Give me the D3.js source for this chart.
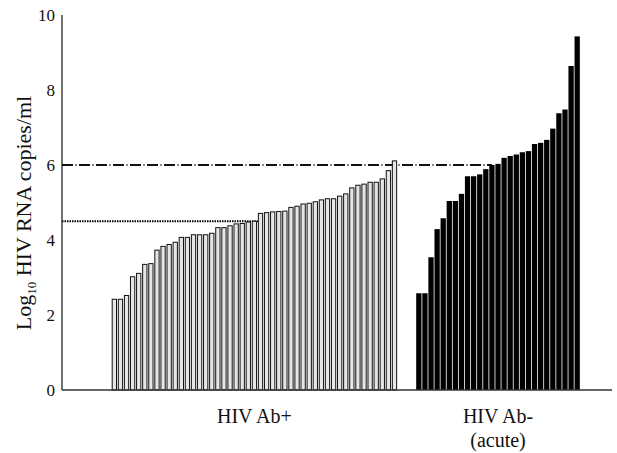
<!DOCTYPE html>
<html>
<head>
<meta charset="utf-8">
<script src="https://cdn.jsdelivr.net/npm/d3@7"></script>
<style>
  body { margin: 0; background: #fff; }
  svg text { font-family: "Liberation Serif", "Times New Roman", serif; fill: #111; }
</style>
</head>
<body>
<svg id="chart" width="617" height="453"></svg>
<script>
// --- data (log10 HIV RNA copies/ml, sorted) ---
const abPosValues = [2.42, 2.42, 2.52, 3.02, 3.11, 3.35, 3.37, 3.73, 3.83, 3.88, 3.94, 4.07, 4.07,
  4.14, 4.14, 4.14, 4.18, 4.33, 4.33, 4.38, 4.43, 4.44, 4.48, 4.50, 4.71, 4.73, 4.75, 4.76, 4.77,
  4.87, 4.90, 4.96, 4.98, 5.02, 5.07, 5.10, 5.10, 5.17, 5.23, 5.39, 5.46, 5.49, 5.54, 5.54, 5.63,
  5.85, 6.11];
const abNegValues = [2.58, 2.58, 3.54, 4.29, 4.58, 5.04, 5.04, 5.23, 5.70, 5.70, 5.75, 5.89, 6.00,
  6.03, 6.19, 6.24, 6.28, 6.34, 6.37, 6.56, 6.59, 6.67, 6.97, 7.38, 7.48, 8.64, 9.43];
const yTicks = [0, 2, 4, 6, 8, 10];
const groupLabels = [["HIV Ab+"], ["HIV Ab-", "(acute)"]];
const dashLevel = 6;
const dotLevel = 4.5;
const gapSlots = 3;

// slot keys: white bars, empty gap, black bars
const posKeys = abPosValues.map((v, i) => "p" + i);
const gapKeys = d3.range(gapSlots).map(i => "g" + i);
const negKeys = abNegValues.map((v, i) => "n" + i);
const allKeys = posKeys.concat(gapKeys, negKeys);

const svg = d3.select("#chart");
const axisX = 62, plotTop = 15, plotBottom = 390;

const y = d3.scaleLinear().domain([0, 10]).range([plotBottom, plotTop]);
const x = d3.scaleBand().domain(allKeys)
  .range([111.3, 111.3 + allKeys.length * 6.09])
  .paddingInner(0.13).paddingOuter(0.065);

// reference lines (under the bars)
svg.append("line")
  .attr("x1", axisX).attr("x2", x(negKeys[12]) + x.bandwidth() / 2)
  .attr("y1", y(dashLevel)).attr("y2", y(dashLevel))
  .attr("stroke", "#111").attr("stroke-width", 1.8)
  .attr("stroke-dasharray", "11,2.5,1,2.5");
svg.append("line")
  .attr("x1", axisX).attr("x2", x(posKeys[24]))
  .attr("y1", y(dotLevel)).attr("y2", y(dotLevel))
  .attr("stroke", "#000").attr("stroke-width", 2.2)
  .attr("stroke-dasharray", "1.5,1");

// bars
svg.append("g").selectAll("rect")
  .data(abPosValues)
  .join("rect")
  .attr("x", (d, i) => x(posKeys[i]) + 0.5)
  .attr("y", d => y(d))
  .attr("width", x.bandwidth() - 1)
  .attr("height", d => plotBottom - y(d))
  .attr("fill", "#e6e6e6")
  .attr("stroke", "#111")
  .attr("stroke-width", 1);

svg.append("g").selectAll("rect")
  .data(abNegValues)
  .join("rect")
  .attr("x", (d, i) => x(negKeys[i]))
  .attr("y", d => y(d))
  .attr("width", x.bandwidth())
  .attr("height", d => plotBottom - y(d))
  .attr("fill", "#000");

// axes
svg.append("line")
  .attr("x1", axisX).attr("x2", axisX).attr("y1", plotTop).attr("y2", plotBottom)
  .attr("stroke", "#111").attr("stroke-width", 1.2);
svg.append("line")
  .attr("x1", axisX).attr("x2", 612).attr("y1", plotBottom).attr("y2", plotBottom)
  .attr("stroke", "#333").attr("stroke-width", 1.5);

svg.append("g").selectAll("text")
  .data(yTicks)
  .join("text")
  .attr("x", axisX - 7)
  .attr("y", d => y(d))
  .attr("dy", "0.35em")
  .attr("text-anchor", "end")
  .style("font-size", "17px")
  .text(d => d);

// y title
const title = svg.append("text")
  .attr("transform", `translate(31,${213}) rotate(-90)`)
  .attr("text-anchor", "middle")
  .style("font-size", "22px");
title.append("tspan").text("Log");
title.append("tspan").attr("dy", 5).style("font-size", "13px").text("10");
title.append("tspan").attr("dy", -5).text(" HIV RNA copies/ml");

// group labels
const groupCenters = [
  (x(posKeys[0]) + x(posKeys[posKeys.length - 1]) + x.bandwidth()) / 2,
  (x(negKeys[0]) + x(negKeys[negKeys.length - 1]) + x.bandwidth()) / 2
];
groupLabels.forEach((lines, gi) => {
  const t = svg.append("text")
    .attr("text-anchor", "middle")
    .style("font-size", "20px");
  lines.forEach((s, li) => {
    t.append("tspan").attr("x", groupCenters[gi]).attr("y", 423 + li * 24).text(s);
  });
});
</script>
</body>
</html>
